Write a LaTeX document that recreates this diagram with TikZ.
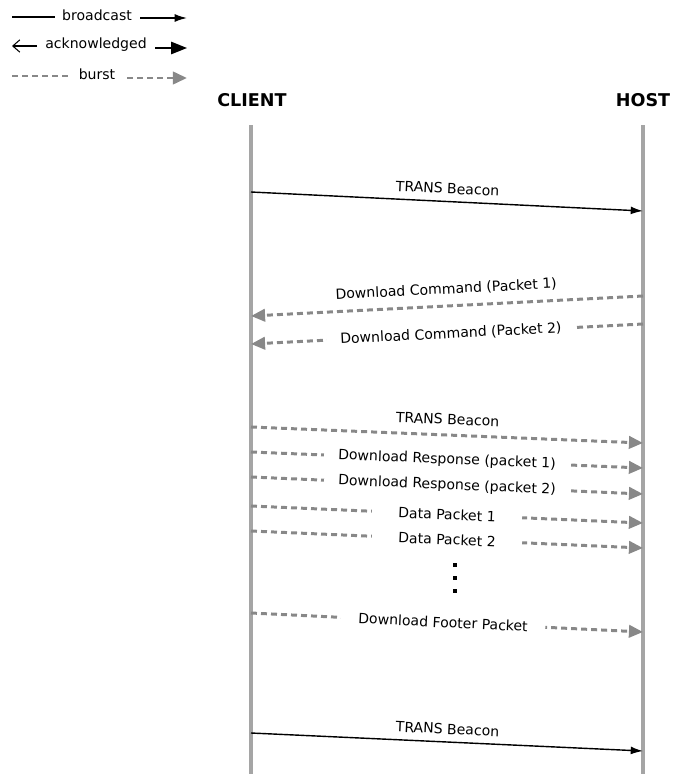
\documentclass[tikz,border=0pt]{standalone}
\usepackage{fontspec}
\setmainfont{DejaVu Sans}
\usetikzlibrary{arrows.meta}
\definecolor{burstgray}{RGB}{136,136,136}
\definecolor{lifegray}{RGB}{165,165,165}
\tikzset{
	lifeline/.style={lifegray,line width=1.8pt},
	bcast/.style={black,line width=0.8pt,-{Latex[length=7pt,width=4.5pt]}},
	burst/.style={burstgray,line width=1.7pt,dash pattern=on 3.4pt off 2.3pt,-{Triangle[length=8pt,width=7pt]}},
	lbl/.style={text=black,font=\fontsize{8}{9.6}\selectfont,inner sep=1pt},
	cut/.style={lbl,fill=white,inner ysep=3pt,inner xsep=#1},
}

\begin{document}
\begin{tikzpicture}[x=0.02cm,y=-0.02cm]
						\useasboundingbox (0,0) rectangle (673,774);
						
						\node (client) at (252,100) {\fontsize{10}{12}\selectfont\bfseries CLIENT};
						\node (host) at (643,100) {\fontsize{10}{12}\selectfont\bfseries HOST};
						\coordinate (ctop) at (251,125);
						\coordinate (cbot) at (251,774);
						\coordinate (htop) at (643,125);
						\coordinate (hbot) at (643,774);
						\draw[lifeline] (ctop) - - (cbot);
						\draw[lifeline] (htop) - - (hbot);
						
						\coordinate (lb1) at (12,17);
						\coordinate (lb2) at (55,17);
						\coordinate (lb3) at (140,18);
						\coordinate (lb4) at (187,18);
						\node[lbl] (lbcast) at (97,15) {broadcast};
						\draw[black,line width=0.6pt] (lb1) - - (lb2);
						\draw[bcast] (lb3) - - (lb4);
						
						\coordinate (la1) at (37,46);
						\coordinate (la2) at (12,46);
						\coordinate (la3) at (155,48);
						\coordinate (la4) at (187,48);
						\node[lbl] (lack) at (96,45) {acknowledged};
						\draw[black,line width=0.6pt,-{Straight Barb[length=4pt,width=7pt]}] (la1) - - (la2);
						\draw[black,line width=0.9pt,-{Triangle[length=9pt,width=7pt]}] (la3) - - (la4);
						
						\coordinate (lu1) at (12,76);
						\coordinate (lu2) at (68,76);
						\coordinate (lu3) at (127,78);
						\coordinate (lu4) at (187,78);
						\node[lbl] (lburst) at (97,74) {burst};
						\draw[burst,-] (lu1) - - (lu2);
						\draw[burst] (lu3) - - (lu4);
						
						\coordinate (c1) at (251,192);
						\coordinate (h1) at (643,211);
						\draw[bcast] (c1) - - node[lbl,sloped,above=3pt] (m1) {TRANS Beacon} (h1);
						
						\coordinate (h2) at (643,296);
						\coordinate (c2) at (251,316);
						\draw[burst] (h2) - - node[lbl,sloped,above=4pt] (m2) {Download Command (Packet 1)} (c2);
						
						\coordinate (h3) at (643,324);
						\coordinate (c3) at (251,344);
						\draw[burst] (h3) - - node[cut=8pt,sloped,pos=0.49] (m3) {Download Command (Packet 2)} (c3);
						
						\coordinate (c4) at (251,427);
						\coordinate (h4) at (643,443);
						\draw[burst] (c4) - - node[lbl,sloped,above=4pt] (m4) {TRANS Beacon} (h4);
						
						\coordinate (c5) at (251,452);
						\coordinate (h5) at (643,468);
						\draw[burst] (c5) - - node[cut=8pt,sloped,pos=0.5] (m5) {Download Response (packet 1)} (h5);
						
						\coordinate (c6) at (251,477);
						\coordinate (h6) at (643,494);
						\draw[burst] (c6) - - node[cut=8pt,sloped,pos=0.5] (m6) {Download Response (packet 2)} (h6);
						
						\coordinate (c7) at (251,506);
						\coordinate (h7) at (643,523);
						\draw[burst] (c7) - - node[cut=15pt,sloped,pos=0.5] (m7) {Data Packet 1} (h7);
						
						\coordinate (c8) at (251,531);
						\coordinate (h8) at (643,548);
						\draw[burst] (c8) - - node[cut=15pt,sloped,pos=0.5] (m8) {Data Packet 2} (h8);
						
						\foreach \y in {565,578,591}
							\fill (453,\y-2) rectangle (457,\y+2);
						
						\coordinate (c9) at (251,613);
						\coordinate (h9) at (643,632);
						\draw[burst] (c9) - - node[cut=10pt,sloped,pos=0.49] (m9) {Download Footer Packet} (h9);
						
						\coordinate (c10) at (251,733);
						\coordinate (h10) at (643,751);
						\draw[bcast] (c10) - - node[lbl,sloped,above=3pt] (m10) {TRANS Beacon} (h10);
					\end{tikzpicture}
\end{document}
